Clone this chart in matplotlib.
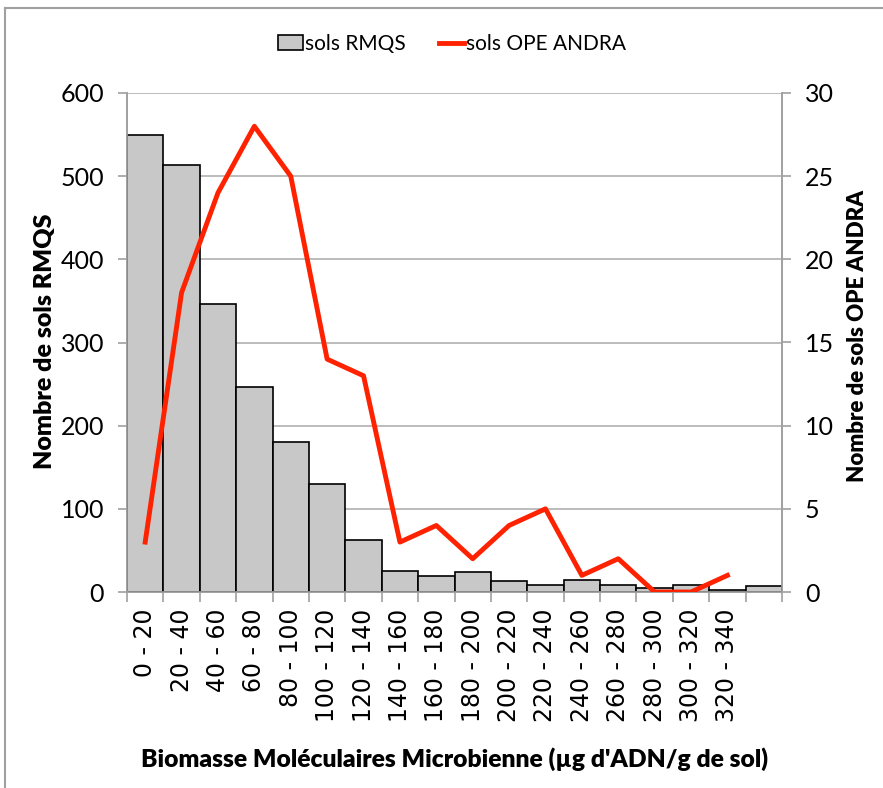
import matplotlib
matplotlib.use("Agg")
import matplotlib.pyplot as plt
from matplotlib.patches import Patch
from matplotlib.lines import Line2D
import numpy as np

categories = ["0 - 20", "20 - 40", "40 - 60", "60 - 80", "80 - 100", "100 - 120",
              "120 - 140", "140 - 160", "160 - 180", "180 - 200", "200 - 220",
              "220 - 240", "240 - 260", "260 - 280", "280 - 300", "300 - 320",
              "320 - 340", ""]
rmqs = [549, 513, 346, 247, 180, 130, 62, 25, 19, 24, 13, 8, 14, 8, 5, 8, 2, 7]
andra = [3, 18, 24, 28, 25, 14, 13, 3, 4, 2, 4, 5, 1, 2, 0, 0, 1]

W, H = 883, 788
narrow = ["Lato", "DejaVu Sans"]
fig = plt.figure(figsize=(W / 100, H / 100), dpi=100)
ax = fig.add_axes([127 / W, 1 - 592 / H, (782 - 127) / W, (592 - 93) / H])
ax2 = ax.twinx()

x = np.arange(len(rmqs))
ax.bar(x, rmqs, width=1.0, color="#c8c8c8", edgecolor="black", linewidth=1.2, zorder=3)
ax2.plot(np.arange(len(andra)), andra, color="#ff2200", linewidth=3.5, zorder=4)

ax.set_xlim(-0.5, len(rmqs) - 0.5)
ax.set_ylim(0, 600)
ax2.set_ylim(0, 30)
ax.set_yticks(range(0, 601, 100))
ax2.set_yticks(range(0, 31, 5))
ax.yaxis.grid(True, color="#b0b0b0", linewidth=1.2, zorder=0)
ax.set_axisbelow(True)

ax.set_xticks(x)
ax.set_xticklabels(categories, rotation=90, fontsize=17, family="DejaVu Sans")
ax.tick_params(axis="x", which="major", length=0, pad=12)
ax.set_xticks(np.arange(-0.5, len(rmqs), 1.0), minor=True)
ax.tick_params(axis="x", which="minor", length=7, color="#a0a0a0", width=1.2)

for a in (ax, ax2):
    a.spines["top"].set_visible(False)
    for s in ("left", "right", "bottom"):
        a.spines[s].set_color("#a0a0a0")
        a.spines[s].set_linewidth(1.2)
ax.tick_params(axis="y", length=6.5, color="#a0a0a0", width=1.2, pad=10)
ax2.tick_params(axis="y", length=6.5, color="#a0a0a0", width=1.2, pad=10)
for lab in ax.get_yticklabels() + ax2.get_yticklabels():
    lab.set_fontsize(18)
    lab.set_family(narrow)

fig.text(45 / W, 1 - 341 / H, "Nombre de sols RMQS", rotation=90, ha="center", va="center",
         fontsize=18, fontweight="heavy", family=narrow)
fig.text(857 / W, 1 - 336 / H, "Nombre de sols OPE ANDRA", rotation=90, ha="center", va="center",
         fontsize=16, fontweight="heavy", family=narrow)
fig.text(455 / W, 1 - 759 / H, "Biomasse Moléculaires Microbienne (µg d'ADN/g de sol)",
         ha="center", va="center", fontsize=17.7, fontweight="heavy", family=narrow)

handles = [Patch(facecolor="#c8c8c8", edgecolor="black", linewidth=1.2),
           Line2D([0], [0], color="#ff2200", linewidth=3.5)]
fig.legend(handles, ["sols RMQS", "sols OPE ANDRA"], loc="center", bbox_to_anchor=(452 / W, 1 - 44 / H),
           ncol=2, frameon=False, prop={"family": narrow, "size": 15},
           handlelength=1.2, handletextpad=0.1, columnspacing=1.6)

fig.add_artist(Line2D([5 / W, 5 / W], [0, 1 - 8 / H], transform=fig.transFigure,
                      color="#a0a0a0", linewidth=1.5))
fig.add_artist(Line2D([5 / W, 1], [1 - 8 / H, 1 - 8 / H], transform=fig.transFigure,
                      color="#a0a0a0", linewidth=1.5))

fig.savefig("out.png", dpi=100)
